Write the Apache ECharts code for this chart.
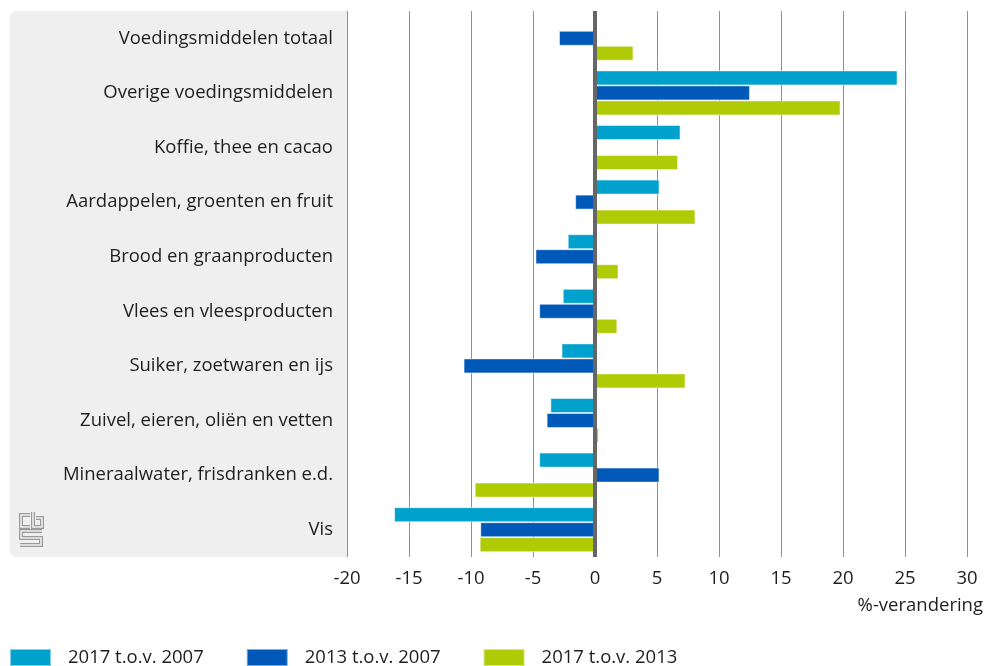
<!DOCTYPE html>
<html>
<head>
<meta charset="utf-8">
<script src="https://cdn.jsdelivr.net/npm/echarts@6/dist/echarts.min.js"></script>
<style>
  html, body { margin: 0; padding: 0; background: #fff; }
  #chart { width: 986px; height: 666px; }
</style>
</head>
<body>
<div id="chart"></div>
<script>
// categories, top to bottom
const categories = [
  'Voedingsmiddelen totaal',
  'Overige voedingsmiddelen',
  'Koffie, thee en cacao',
  'Aardappelen, groenten en fruit',
  'Brood en graanproducten',
  'Vlees en vleesproducten',
  'Suiker, zoetwaren en ijs',
  'Zuivel, eieren, oliën en vetten',
  'Mineraalwater, frisdranken e.d.',
  'Vis'
];

const seriesNames = ['2017 t.o.v. 2007', '2013 t.o.v. 2007', '2017 t.o.v. 2013'];

const change2017vs2007 = [null, 24.4, 6.9, 5.2, -2.2, -2.6, -2.7, -3.6, -4.5, -16.2];
const change2013vs2007 = [-2.9, 12.5, -0.1, -1.6, -4.8, -4.5, -10.6, -3.9, 5.2, -9.25];
const change2017vs2013 = [3.1, 19.8, 6.7, 8.1, 1.9, 1.8, 7.3, 0.3, -9.7, -9.3];

const xTicks = { min: -20, max: 30, interval: 5 };

const colors = ['#00a1cd', '#0058b8', '#afcb05'];
const font = 'Open Sans';
const textColor = '#1e1e1e';
const fontSize = 18.5;

const chart = echarts.init(document.getElementById('chart'));

const barSeries = (name, data, color, withZero) => {
  const s = {
    name,
    type: 'bar',
    data,
    barWidth: 15,
    barGap: '0%',
    itemStyle: {
      color,
      borderColor: 'rgba(255,255,255,0.5)',
      borderWidth: 1
    },
    emphasis: { disabled: true },
    z: 2
  };
  if (withZero) {
    s.markLine = {
      silent: true,
      symbol: 'none',
      label: { show: false },
      lineStyle: { color: '#666', width: 4, type: 'solid' },
      data: [{ xAxis: 0 }],
      z: 5
    };
  }
  return s;
};

// cbs logo, drawn as thick grey strokes with a thin panel-coloured core
const logoPaths = [
  [[30, 515], [21, 515], [21, 527], [30, 527]],
  [[33, 512], [33, 527], [42, 527], [42, 518], [36, 518]],
  [[42, 531], [21, 531], [21, 538], [41, 538], [41, 545], [20, 545]]
];
const logo = [];
logoPaths.forEach(p => {
  logo.push({ type: 'polyline', shape: { points: p }, style: { stroke: '#9a9a9a', lineWidth: 4, fill: null }, z: 1 });
  logo.push({ type: 'polyline', shape: { points: p }, style: { stroke: '#efefef', lineWidth: 1.6, fill: null }, z: 2 });
});

chart.setOption({
  animation: false,
  textStyle: { fontFamily: font },
  grid: { left: 347, right: 19, top: 11, bottom: 109, containLabel: false },
  graphic: [
    {
      type: 'rect',
      shape: { x: 10, y: 11, width: 337, height: 546, r: [6, 0, 0, 6] },
      style: { fill: '#efefef' },
      z: -10,
      silent: true
    },
    {
      type: 'text',
      right: 3,
      top: 596,
      style: { text: '%-verandering', font: `${fontSize}px "${font}"`, fill: textColor }
    },
    ...logo
  ],
  legend: {
    left: 9,
    top: 648,
    padding: 0,
    itemWidth: 41,
    itemHeight: 17,
    itemGap: 42,
    icon: 'rect',
    selectedMode: false,
    textStyle: { fontSize, color: textColor, fontFamily: font, padding: [0, 0, 0, 12] },
    data: seriesNames
  },
  xAxis: {
    type: 'value',
    min: xTicks.min,
    max: xTicks.max,
    interval: xTicks.interval,
    axisLine: { show: false },
    axisTick: { show: false },
    axisLabel: { fontSize, color: textColor, margin: 12 },
    splitLine: { lineStyle: { color: '#8f8f8f', width: 1 } }
  },
  yAxis: {
    type: 'category',
    data: categories,
    inverse: true,
    axisLine: { show: false },
    axisTick: { show: false },
    axisLabel: { fontSize, color: textColor, margin: 14 },
    splitLine: { show: false }
  },
  series: [
    barSeries(seriesNames[0], change2017vs2007, colors[0], true),
    barSeries(seriesNames[1], change2013vs2007, colors[1], false),
    barSeries(seriesNames[2], change2017vs2013, colors[2], false)
  ]
});
</script>
</body>
</html>
